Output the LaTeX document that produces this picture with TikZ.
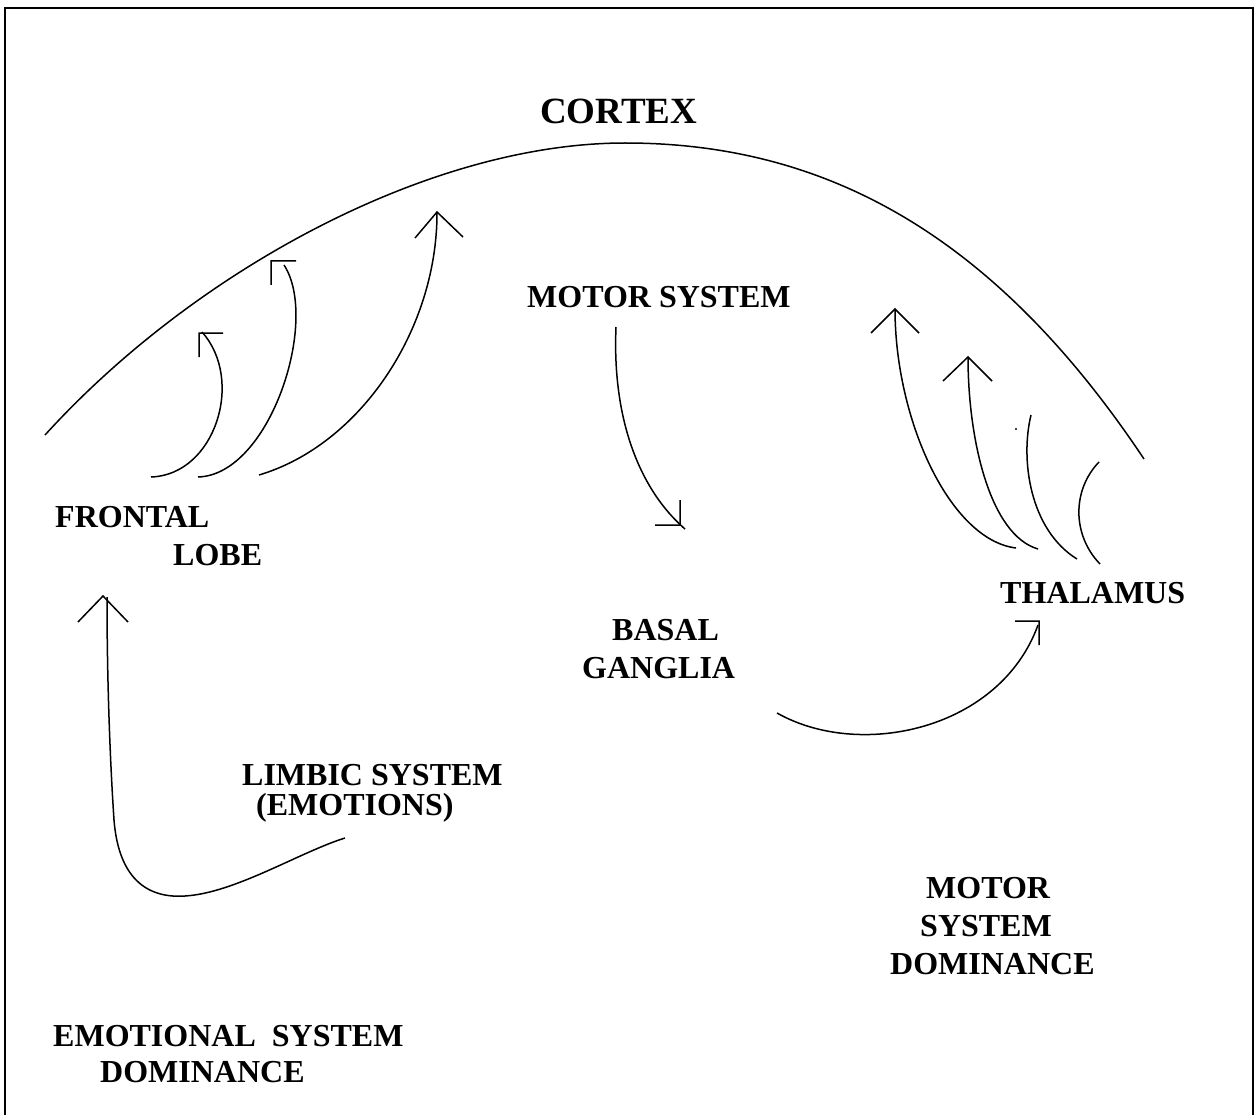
\documentclass[tikz,border=0pt]{standalone}
\usepackage{fontspec}
\setmainfont{Liberation Serif}
\usetikzlibrary{positioning}

\tikzset{
	nerve/.style={line width=1.5pt},
	frame/.style={line width=2pt},
	lbl/.style={anchor=base west,inner sep=0pt,align=left,font=\fontsize{32}{38}\selectfont\bfseries},
	title/.style={anchor=base west,inner sep=0pt,font=\fontsize{37}{44}\selectfont\bfseries}
}

\begin{document}
\begin{tikzpicture}[x=1pt,y=-1pt]
	\useasboundingbox (0,0) rectangle (1258,1115);
	\draw[frame] (5,1115) -- (5,8) -- (1253,8) -- (1253,1115);

	% labels (base = last line)
	\node[title] (cortex) at (540,124) {CORTEX};
	\node[lbl] (motor) at (527,308) {MOTOR SYSTEM};
	\node[lbl] (frontal) at (55,565) {FRONTAL\\\hspace*{118pt}LOBE};
	\node[lbl] (thalamus) at (1000,603) {THALAMUS};
	\node[lbl] (basal) at (582,678) {\hspace*{30pt}BASAL\\GANGLIA};
	\node[lbl,font=\fontsize{32}{30}\selectfont\bfseries] (limbic) at (242,815) {LIMBIC SYSTEM\\\hspace*{14pt}(EMOTIONS)};
	\node[lbl] (motordom) at (890,974) {\hspace*{36pt}MOTOR\\\hspace*{30pt}SYSTEM\\DOMINANCE};
	\node[lbl,font=\fontsize{32}{36}\selectfont\bfseries] (emodom) at (53,1082) {EMOTIONAL\ \ SYSTEM\\\hspace*{47pt}DOMINANCE};

	% ends of the curves
	\coordinate (cxl) at (45,435);
	\coordinate (cxt) at (625,143);
	\coordinate (cxr) at (1144,459);
	\coordinate (fa) at (151,477);  \coordinate (ta) at (202,332);
	\coordinate (fb) at (198,477);  \coordinate (tb) at (284,265);
	\coordinate (fc) at (259,475);  \coordinate (tc) at (437,213);
	\coordinate (fd) at (1016,548); \coordinate (td) at (895,309);
	\coordinate (fe) at (1038,549); \coordinate (te) at (968,357);
	\coordinate (ff) at (1077,559); \coordinate (tf) at (1031,415);
	\coordinate (fg) at (1100,564); \coordinate (tg) at (1099,462);
	\coordinate (fm) at (616,327);  \coordinate (tm) at (685,529);
	\coordinate (fbg) at (777,713); \coordinate (tbg) at (1038,625);
	\coordinate (flim) at (345,838); \coordinate (tlim) at (107,597);

	% cortex
	\draw[nerve] (cxl) .. controls (195,270) and (430,143) .. (cxt) .. controls (825,143) and (994,234) .. (cxr);

	\draw[nerve]
		(fa) .. controls (215,475) and (245,380) .. (ta)
		(fb) .. controls (270,475) and (320,320) .. (tb)
		(fc) .. controls (360,445) and (437,330) .. (tc)
		(fd) .. controls (950,540) and (895,420) .. (td)
		(fe) .. controls (990,535) and (968,440) .. (te)
		(ff) .. controls (1030,530) and (1020,460) .. (tf)
		(fg) .. controls (1072,535) and (1072,490) .. (tg)
		(fm) .. controls (612,420) and (640,490) .. (tm)
		(fbg) .. controls (860,760) and (1000,730) .. (tbg)
		(flim) .. controls (300,852) and (235,893) .. (185,896) .. controls (140,899) and (118,870) .. (114,820) .. controls (110,760) and (107,680) .. (tlim)
		;

	% heads
	\draw[nerve]
		(223,333) -- (199,333) -- ++(0,24)
		(296,261) -- (271,261) -- ++(0,24)
		(tc) ++(-22,25) -- (437,212) -- ++(26,25)
		(td) ++(-24,24) -- (td) -- ++(24,24)
		(te) ++(-25,24) -- (te) -- ++(24,24)
		(655,525) -- (680,525) -- ++(0,-25)
		(1015,621) -- (1039,621) -- ++(0,24)
		(103,596) ++(-25,26) -- (103,596) -- ++(25,26)
		;
	\fill (1016,429) circle (1.2);
\end{tikzpicture}
\end{document}
